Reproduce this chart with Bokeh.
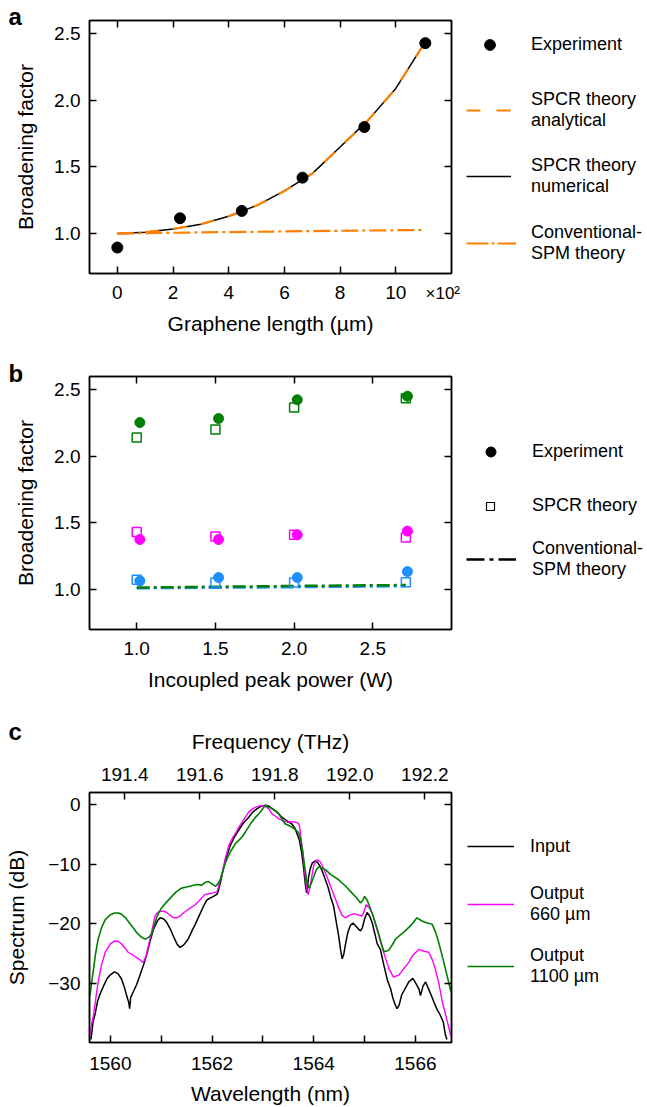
from bokeh.plotting import figure
from bokeh.models import (Range1d, LinearAxis, FixedTicker, Legend, LegendItem, Label,
                          PrintfTickFormatter, CustomLabelingPolicy)
from bokeh.layouts import column, row
from bokeh.embed import file_html
from bokeh.resources import INLINE

FONT = "Liberation Sans"
ORANGE = "#FF8000"
GREEN = "#008000"
MAGENTA = "#FF00FF"
BLUE = "#1F8FFF"
NAN = float("nan")

# ---------------- panel a data (graphene length in units of 100 um) ----------------
len_exp = [0.0, 2.25, 4.47, 6.65, 8.87, 11.06]
bf_exp = [0.895, 1.115, 1.17, 1.42, 1.80, 2.43]
len_theory = [0, 1, 2, 3, 4, 5, 6, 7, 8, 9, 10, 11]
bf_analytical = [1.00, 1.01, 1.035, 1.07, 1.13, 1.21, 1.32, 1.45, 1.65, 1.85, 2.09, 2.42]
bf_numerical = [1.00, 1.01, 1.035, 1.07, 1.13, 1.21, 1.32, 1.45, 1.65, 1.85, 2.09, 2.42]
len_spm = [0, 2, 4, 6, 8, 10, 11]
bf_spm = [1.0, 1.006, 1.011, 1.016, 1.021, 1.025, 1.027]

# ---------------- panel b data ----------------
p_exp = [1.02, 1.52, 2.02, 2.72]
p_th = [1.0, 1.5, 2.0, 2.71]
bf_exp_1100 = [2.254, 2.284, 2.425, 2.452]
bf_th_1100 = [2.142, 2.202, 2.367, 2.437]
bf_exp_660 = [1.376, 1.376, 1.411, 1.439]
bf_th_660 = [1.433, 1.398, 1.411, 1.39]
bf_exp_220 = [1.065, 1.09, 1.09, 1.135]
bf_th_220 = [1.073, 1.053, 1.053, 1.055]
bf_spm_1100 = [1.015, 1.021, 1.027, 1.034]
bf_spm_220 = [1.010, 1.014, 1.018, 1.025]

# ---------------- panel c data ----------------
wl_input = [1559.62, 1559.66, 1559.70, 1559.75, 1559.80, 1559.86, 1559.93, 1560.00, 1560.08, 1560.15,
            1560.22, 1560.28, 1560.32, 1560.36, 1560.38, 1560.40, 1560.45, 1560.52, 1560.58, 1560.65,
            1560.71, 1560.78, 1560.85, 1560.92, 1560.98, 1561.05, 1561.11, 1561.18, 1561.24, 1561.31,
            1561.37, 1561.44, 1561.53, 1561.60, 1561.67, 1561.75, 1561.83, 1561.90, 1561.96, 1562.03,
            1562.10, 1562.13, 1562.18, 1562.23, 1562.30, 1562.36, 1562.44, 1562.52, 1562.62, 1562.72,
            1562.80, 1562.89, 1562.97, 1563.05, 1563.12, 1563.18, 1563.28, 1563.38, 1563.48, 1563.57,
            1563.63, 1563.67, 1563.72, 1563.76, 1563.80, 1563.83, 1563.86, 1563.88, 1563.90, 1563.93,
            1563.97, 1564.03, 1564.08, 1564.13, 1564.18, 1564.23, 1564.28, 1564.33, 1564.39, 1564.44,
            1564.49, 1564.53, 1564.56, 1564.59, 1564.62, 1564.67, 1564.72, 1564.77, 1564.82, 1564.88,
            1564.92, 1564.96, 1565.00, 1565.05, 1565.10, 1565.15, 1565.20, 1565.25, 1565.31, 1565.38,
            1565.45, 1565.51, 1565.56, 1565.61, 1565.64, 1565.68, 1565.73, 1565.80, 1565.87, 1565.95,
            1566.02, 1566.07, 1566.10, 1566.15, 1566.20, 1566.25, 1566.31, 1566.36, 1566.43, 1566.49,
            1566.55, 1566.59, 1566.62]
db_input = [-39.5, -36.5, -35.2, -33.0, -31.8, -30.6, -29.3, -28.6, -28.1, -28.4,
            -29.3, -30.8, -32.1, -33.2, -34.3, -32.4, -31.5, -30.2, -28.7, -27.0,
            -25.4, -23.0, -20.9, -19.6, -19.0, -19.2, -19.8, -20.9, -22.1, -23.4,
            -24.0, -23.6, -22.6, -21.3, -20.1, -18.6, -17.1, -16.0, -15.7, -15.4,
            -15.0, -14.3, -12.5, -10.4, -8.4, -6.8, -5.4, -4.3, -3.0, -2.1,
            -1.2, -0.6, -0.2, -0.05, -0.2, -0.6, -1.2, -2.1, -2.7, -3.2,
            -3.9, -4.8, -6.0, -7.9, -10.5, -13.0, -14.8, -13.5, -12.1, -10.8,
            -9.8, -9.4, -9.7, -10.4, -11.4, -12.6, -13.8, -15.4, -17.0, -19.5,
            -22.0, -24.5, -25.9, -25.2, -23.7, -21.5, -20.3, -19.9, -20.3, -20.9,
            -21.2, -20.6, -19.2, -18.1, -18.7, -19.8, -21.6, -23.4, -24.3, -27.0,
            -29.5, -30.9, -32.6, -33.8, -34.3, -33.7, -32.0, -30.9, -29.8, -29.2,
            -30.2, -31.0, -32.1, -30.5, -29.8, -30.8, -32.0, -33.1, -34.5, -35.4,
            -36.6, -38.7, -39.5]

wl_660 = [1559.60, 1559.64, 1559.67, 1559.72, 1559.76, 1559.83, 1559.90, 1560.00, 1560.09, 1560.16,
          1560.22, 1560.30, 1560.35, 1560.45, 1560.52, 1560.60, 1560.65, 1560.70, 1560.75, 1560.82,
          1560.88, 1560.93, 1560.98, 1561.05, 1561.11, 1561.18, 1561.24, 1561.30, 1561.37, 1561.45,
          1561.53, 1561.60, 1561.67, 1561.76, 1561.86, 1561.95, 1562.03, 1562.10, 1562.15, 1562.20,
          1562.26, 1562.33, 1562.40, 1562.46, 1562.52, 1562.59, 1562.66, 1562.72, 1562.79, 1562.85,
          1562.95, 1563.05, 1563.12, 1563.18, 1563.25, 1563.31, 1563.40, 1563.48, 1563.56, 1563.64,
          1563.70, 1563.72, 1563.75, 1563.78, 1563.81, 1563.84, 1563.87, 1563.89, 1563.92, 1563.95,
          1564.00, 1564.05, 1564.09, 1564.13, 1564.18, 1564.23, 1564.28, 1564.33, 1564.38, 1564.43,
          1564.50, 1564.56, 1564.62, 1564.70, 1564.79, 1564.87, 1564.95, 1564.99, 1565.03, 1565.09,
          1565.15, 1565.23, 1565.31, 1565.40, 1565.48, 1565.57, 1565.62, 1565.67, 1565.75, 1565.87,
          1565.95, 1566.07, 1566.15, 1566.26, 1566.33, 1566.39, 1566.46, 1566.53, 1566.60, 1566.66,
          1566.70]
db_660 = [-38.7, -36.5, -35.4, -32.2, -29.8, -26.8, -24.8, -23.4, -22.9, -23.0,
          -23.4, -24.2, -24.8, -25.3, -25.7, -26.2, -26.5, -25.5, -23.7, -21.0,
          -18.7, -18.1, -17.9, -17.9, -18.1, -18.6, -19.0, -19.0, -18.7, -18.1,
          -17.6, -17.2, -16.8, -16.0, -15.1, -14.9, -14.8, -14.6, -13.0, -11.5,
          -9.0, -6.8, -5.6, -4.8, -3.8, -2.9, -2.0, -1.2, -0.7, -0.4,
          -0.1, -0.2, -0.7, -1.5, -1.9, -2.3, -2.7, -2.9, -2.8, -2.9,
          -3.1, -3.5, -5.5, -7.6, -10.2, -12.6, -14.3, -15.1, -14.0, -12.6,
          -10.2, -9.3, -9.3, -9.6, -10.4, -11.4, -12.5, -13.7, -14.8, -15.9,
          -17.5, -18.6, -19.0, -18.6, -18.3, -18.5, -18.7, -18.0, -16.8, -17.3,
          -18.2, -20.5, -22.9, -25.5, -27.6, -29.0, -28.8, -28.7, -27.8, -26.5,
          -25.3, -24.3, -24.6, -24.8, -26.0, -27.6, -30.0, -33.2, -35.5, -37.6,
          -39.0]

wl_1100 = [1559.60, 1559.63, 1559.67, 1559.71, 1559.76, 1559.83, 1559.90, 1560.00, 1560.09, 1560.16,
           1560.22, 1560.30, 1560.35, 1560.44, 1560.52, 1560.60, 1560.68, 1560.75, 1560.81, 1560.86,
           1560.91, 1560.96, 1561.01, 1561.10, 1561.21, 1561.30, 1561.40, 1561.50, 1561.60, 1561.70,
           1561.80, 1561.87, 1561.93, 1562.00, 1562.07, 1562.12, 1562.16, 1562.21, 1562.26, 1562.31,
           1562.36, 1562.41, 1562.46, 1562.52, 1562.59, 1562.66, 1562.72, 1562.78, 1562.85, 1562.90,
           1562.95, 1563.00, 1563.05, 1563.10, 1563.18, 1563.25, 1563.31, 1563.38, 1563.44, 1563.50,
           1563.57, 1563.63, 1563.70, 1563.74, 1563.78, 1563.82, 1563.87, 1563.91, 1563.95, 1564.00,
           1564.05, 1564.10, 1564.16, 1564.23, 1564.33, 1564.49, 1564.62, 1564.75, 1564.85, 1564.92,
           1564.97, 1565.00, 1565.05, 1565.10, 1565.18, 1565.25, 1565.32, 1565.38, 1565.44, 1565.48,
           1565.55, 1565.61, 1565.70, 1565.80, 1565.92, 1566.03, 1566.12, 1566.20, 1566.33, 1566.40,
           1566.46, 1566.53, 1566.59, 1566.67, 1566.70]
db_1100 = [-32.1, -30.0, -27.6, -25.0, -22.6, -20.6, -19.3, -18.5, -18.2, -18.2,
           -18.4, -19.0, -19.6, -20.6, -21.5, -22.2, -22.6, -22.3, -21.8, -20.4,
           -19.0, -18.0, -17.3, -16.4, -15.4, -14.6, -14.0, -13.8, -13.6, -13.4,
           -13.5, -13.0, -12.9, -13.3, -13.7, -13.2, -12.6, -11.2, -9.8, -8.8,
           -7.9, -7.2, -6.5, -6.0, -5.4, -4.5, -3.7, -2.9, -2.1, -1.7,
           -1.2, -0.6, -0.1, -0.3, -0.6, -1.0, -1.5, -2.4, -3.2, -3.4,
           -3.7, -4.1, -4.6, -5.8, -7.6, -10.2, -13.2, -14.0, -13.2, -12.1,
           -10.9, -10.4, -10.6, -10.9, -11.7, -12.6, -13.6, -14.8, -15.7, -16.5,
           -16.0, -15.4, -16.0, -17.1, -19.0, -20.9, -23.0, -24.7, -24.6, -24.4,
           -23.5, -22.6, -21.9, -21.2, -20.2, -19.0, -19.5, -19.8, -20.1, -21.5,
           -23.2, -25.5, -27.6, -30.4, -31.5]

# tick values / labels
a_xticks = [0, 2, 4, 6, 8, 10]
bf_ticks = [1.0, 1.5, 2.0, 2.5]
b_xticks = [1.0, 1.5, 2.0, 2.5]
wl_ticks = [1560, 1562, 1564, 1566]
wl_minor = [1561, 1563, 1565]
db_ticks = [0, -10, -20, -30]
db_labels = {0: "0", -10: "\u221210", -20: "\u221220", -30: "\u221230"}
freq_ticks = [191.4, 191.6, 191.8, 192.0, 192.2]

# ---------------- layout constants (page pixels) ----------------
MW = 466          # main figure width
LW = 647 - MW     # legend strip width
BL = 89
FW = 362
FH = 253
A_TOP, A_H = 0, 348
B_TOP, B_H = 348, 363
C_TOP, C_H = 711, 396
NO_LABELS = "for (const i of [...indices]) { indices.unset(i) }; return indices"


def base_fig(height, top, xr, yr):
    p = figure(width=MW, height=height, x_range=xr, y_range=yr, title=None,
               output_backend="svg", toolbar_location=None,
               min_border_left=BL, min_border_right=MW - BL - FW,
               min_border_top=top, min_border_bottom=height - top - FH)
    p.xgrid.visible = False
    p.ygrid.visible = False
    p.outline_line_color = "black"
    p.outline_line_width = 1.5
    p.background_fill_color = "white"
    p.border_fill_color = "white"
    return p


def legend_fig(height, top):
    q = figure(width=LW, height=height, x_range=Range1d(0, 1), y_range=Range1d(0, 1),
               title=None, output_backend="svg", toolbar_location=None,
               x_axis_location=None, y_axis_location=None,
               min_border_left=0, min_border_right=0,
               min_border_top=top, min_border_bottom=height - top - FH)
    q.grid.visible = False
    q.outline_line_color = None
    q.background_fill_color = "white"
    q.border_fill_color = "white"
    return q


def style_axis(ax):
    ax.axis_line_color = "black"
    ax.axis_line_width = 1.5
    ax.major_tick_in = 7
    ax.major_tick_out = 0
    ax.major_tick_line_width = 1.5
    ax.major_tick_line_color = "black"
    ax.minor_tick_in = 0
    ax.minor_tick_out = 0
    ax.major_label_text_font = FONT
    ax.major_label_text_font_size = "19px"
    ax.major_label_text_color = "black"
    ax.axis_label_text_font = FONT
    ax.axis_label_text_font_size = "21px"
    ax.axis_label_text_font_style = "normal"
    ax.axis_label_text_color = "black"


def mirror(p, side, ticker):
    ax = LinearAxis(ticker=ticker)
    style_axis(ax)
    ax.major_label_policy = CustomLabelingPolicy(code=NO_LABELS)
    ax.major_label_text_font_size = "0px"
    ax.major_label_standoff = 0
    p.add_layout(ax, side)
    return ax


def page_label(p, side, xr, yr, fb, px, py, text, size, bold=False):
    """Text whose left edge / vertical middle sit at figure pixel (px, py), via the data scales."""
    x = xr.start + (px - BL) * (xr.end - xr.start) / FW
    y = yr.start + (fb - py) * (yr.end - yr.start) / FH
    p.add_layout(Label(x=x, y=y, text=text, text_font=FONT, text_font_size=size,
                       text_font_style="bold" if bold else "normal", text_color="black",
                       text_baseline="middle", text_align="left"), side)


def key(q, fb, rend, text, gx, gw, gh, tx, cy):
    """One legend entry: glyph box starts at page x gx, centred at figure y cy."""
    leg = Legend(items=[LegendItem(label=text, renderers=[rend])],
                 location=(gx - MW, fb - (cy + gh / 2.0)),
                 glyph_width=gw, glyph_height=gh, label_height=gh,
                 label_standoff=int(round(tx - (gx + gw))),
                 padding=0, margin=0, spacing=0,
                 border_line_alpha=0, background_fill_alpha=0,
                 label_text_font=FONT, label_text_font_size="18px",
                 label_text_color="black")
    q.add_layout(leg)


# ================= panel a =================
FBa = 273 - A_TOP
xa, ya = Range1d(-1, 12), Range1d(0.7, 2.6)
pa = base_fig(A_H, 20, xa, ya)
pa.xaxis.ticker = FixedTicker(ticks=a_xticks)
pa.yaxis.ticker = FixedTicker(ticks=bf_ticks)
pa.yaxis.formatter = PrintfTickFormatter(format="%.1f")
pa.xaxis.axis_label = "Graphene length (\u00b5m)"
pa.yaxis.axis_label = "Broadening factor"
for ax in pa.xaxis + pa.yaxis:
    style_axis(ax)
pa.xaxis.major_label_standoff = 12
pa.xaxis.axis_label_standoff = 10
pa.yaxis.major_label_standoff = 9
pa.yaxis.axis_label_standoff = 14
mirror(pa, "right", FixedTicker(ticks=bf_ticks))
mirror(pa, "above", FixedTicker(ticks=a_xticks))

pa.line(len_theory, bf_numerical, line_color="black", line_width=1.5)
pa.line(len_theory, bf_analytical, line_color=ORANGE, line_width=2.2, line_dash="14 14")
pa.line(len_spm, bf_spm, line_color=ORANGE, line_width=2.2, line_dash="17 4 3 4")
pa.scatter(len_exp, bf_exp, marker="circle", size=11, fill_color="black", line_color="black")
page_label(pa, "right", xa, ya, FBa, 8, 16 - A_TOP, "a", "24px", True)
page_label(pa, "above", xa, ya, FBa, 425, 293 - A_TOP, "\u00d710\u00b2", "17px")

la = legend_fig(A_H, 20)
ka_exp = la.scatter([NAN], [NAN], marker="circle", size=11, fill_color="black", line_color="black")
ka_ana = la.line([NAN], [NAN], line_color=ORANGE, line_width=2.2, line_dash="14 16")
ka_num = la.line([NAN], [NAN], line_color="black", line_width=1.5)
ka_spm = la.line([NAN], [NAN], line_color=ORANGE, line_width=2.2, line_dash="22 3 3 3")
key(la, FBa, ka_exp, "Experiment", 476, 27, 27, 531, 44 - A_TOP)
key(la, FBa, ka_ana, "SPCR theory\nanalytical", 466, 45, 50, 531, 110 - A_TOP)
key(la, FBa, ka_num, "SPCR theory\nnumerical", 466, 45, 50, 531, 176 - A_TOP)
key(la, FBa, ka_spm, "Conventional-\nSPM theory", 466, 50, 50, 531, 243 - A_TOP)

# ================= panel b =================
FBb = 629 - B_TOP
xb, yb = Range1d(0.7, 3.0), Range1d(0.7, 2.6)
pb = base_fig(B_H, 376 - B_TOP, xb, yb)
pb.xaxis.ticker = FixedTicker(ticks=b_xticks)
pb.xaxis.formatter = PrintfTickFormatter(format="%.1f")
pb.yaxis.ticker = FixedTicker(ticks=bf_ticks)
pb.yaxis.formatter = PrintfTickFormatter(format="%.1f")
pb.xaxis.axis_label = "Incoupled peak power (W)"
pb.yaxis.axis_label = "Broadening factor"
for ax in pb.xaxis + pb.yaxis:
    style_axis(ax)
pb.xaxis.major_label_standoff = 12
pb.xaxis.axis_label_standoff = 10
pb.yaxis.major_label_standoff = 9
pb.yaxis.axis_label_standoff = 14
mirror(pb, "right", FixedTicker(ticks=bf_ticks))
mirror(pb, "above", FixedTicker(ticks=b_xticks))

pb.line(p_th, bf_spm_220, line_color=BLUE, line_width=2.5, line_dash="13 4 3 4")
pb.line(p_th, bf_spm_1100, line_color=GREEN, line_width=2.5, line_dash="13 4 3 4")
for ys, col in ((bf_exp_1100, GREEN), (bf_exp_660, MAGENTA), (bf_exp_220, BLUE)):
    pb.scatter(p_exp, ys, marker="circle", size=10, fill_color=col, line_color=col)
for ys, col in ((bf_th_1100, GREEN), (bf_th_660, MAGENTA), (bf_th_220, BLUE)):
    pb.scatter(p_th, ys, marker="square", size=9, fill_color=None, line_color=col, line_width=1.5)
page_label(pb, "right", xb, yb, FBb, 8, 373 - B_TOP, "b", "24px", True)

lb = legend_fig(B_H, 376 - B_TOP)
kb_exp = lb.scatter([NAN], [NAN], marker="circle", size=10, fill_color="black", line_color="black")
kb_th = lb.scatter([NAN], [NAN], marker="square", size=8, fill_color=None, line_color="black",
                   line_width=1.2)
kb_spm = lb.line([NAN], [NAN], line_color="black", line_width=2.5, line_dash="18 5 4 5")
key(lb, FBb, kb_exp, "Experiment", 478, 25, 25, 532, 451.7 - B_TOP)
key(lb, FBb, kb_th, "SPCR theory", 480, 20, 20, 532, 506 - B_TOP)
key(lb, FBb, kb_spm, "Conventional-\nSPM theory", 466, 50, 50, 532, 559 - B_TOP)

# ================= panel c =================
FBc = 1045 - C_TOP
xc, yc = Range1d(1559.59, 1566.71), Range1d(-40, 2.1)
pc = base_fig(C_H, 792 - C_TOP, xc, yc)
pc.extra_x_ranges = {"freq": Range1d(191.306, 192.271)}
pc.xaxis.ticker = FixedTicker(ticks=wl_ticks, minor_ticks=wl_minor)
pc.yaxis.ticker = FixedTicker(ticks=db_ticks)
pc.yaxis.major_label_overrides = db_labels
pc.xaxis.axis_label = "Wavelength (nm)"
pc.yaxis.axis_label = "Spectrum (dB)"
for ax in pc.xaxis + pc.yaxis:
    style_axis(ax)
pc.xaxis.minor_tick_in = 7
pc.xaxis.minor_tick_line_width = 1.5
pc.xaxis.major_label_standoff = 14
pc.xaxis.axis_label_standoff = 9
pc.yaxis.major_label_standoff = 9
pc.yaxis.axis_label_standoff = 17
top = LinearAxis(x_range_name="freq", ticker=FixedTicker(ticks=freq_ticks),
                 formatter=PrintfTickFormatter(format="%.1f"), axis_label="Frequency (THz)")
style_axis(top)
top.major_label_standoff = 12
top.axis_label_standoff = 12
pc.add_layout(top, "above")
mirror(pc, "right", FixedTicker(ticks=db_ticks))

pc.line(wl_input, db_input, line_color="black", line_width=1.5)
pc.line(wl_660, db_660, line_color=MAGENTA, line_width=1.4)
pc.line(wl_1100, db_1100, line_color=GREEN, line_width=1.6)
page_label(pc, "right", xc, yc, FBc, 8, 730 - C_TOP, "c", "24px", True)

lc = legend_fig(C_H, 792 - C_TOP)
kc_in = lc.line([NAN], [NAN], line_color="black", line_width=1.5)
kc_660 = lc.line([NAN], [NAN], line_color=MAGENTA, line_width=1.4)
kc_1100 = lc.line([NAN], [NAN], line_color=GREEN, line_width=1.6)
key(lc, FBc, kc_in, "Input", 467, 47, 50, 530, 849.3 - C_TOP)
key(lc, FBc, kc_660, "Output\n660 \u00b5m", 467, 47, 50, 530, 907 - C_TOP)
key(lc, FBc, kc_1100, "Output\n1100 \u00b5m", 467, 47, 50, 530, 969 - C_TOP)

layout = column(row(pa, la, spacing=0), row(pb, lb, spacing=0), row(pc, lc, spacing=0), spacing=0)
open("out.html", "w").write(file_html(layout, INLINE))
